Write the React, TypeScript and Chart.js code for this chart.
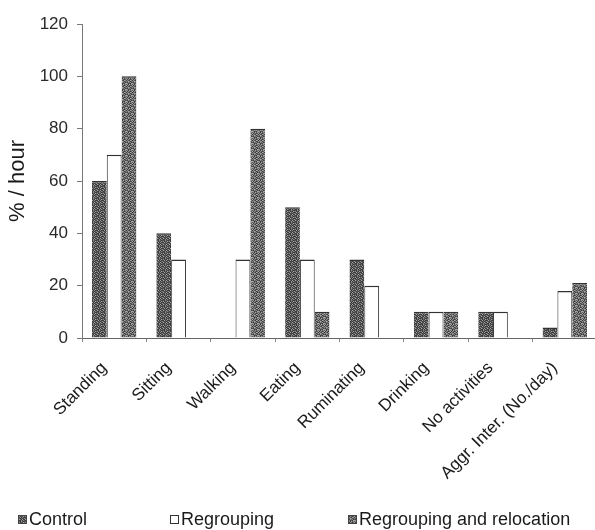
import React, { useEffect, useRef } from "react";
import { Chart, registerables } from "chart.js";

Chart.register(...registerables);

const categories = [
  "Standing",
  "Sitting",
  "Walking",
  "Eating",
  "Ruminating",
  "Drinking",
  "No activities",
  "Aggr. Inter. (No./day)",
];
const controlValues = [60, 40, 0, 50, 30, 10, 10, 4];
const regroupingValues = [70, 30, 30, 30, 20, 10, 10, 18];
const relocationValues = [100, 0, 80, 10, 0, 10, 0, 21];
const yTicks = [0, 20, 40, 60, 80, 100, 120];
const seriesNames = ["Control", "Regrouping", "Regrouping and relocation"];

const FONT = "'Liberation Sans', Arial, sans-serif";

function makePattern(cells: string[][]): CanvasPattern | string {
  const c = document.createElement("canvas");
  const n = cells.length;
  c.width = n;
  c.height = n;
  const ctx = c.getContext("2d");
  if (!ctx) return "#666";
  for (let y = 0; y < n; y++) {
    for (let x = 0; x < n; x++) {
      ctx.fillStyle = cells[y][x];
      ctx.fillRect(x, y, 1, 1);
    }
  }
  const p = ctx.createPattern(c, "repeat");
  return p || "#666";
}

const A = "#3c3c3c";
const B = "#5e5e5e";
const C = "#8a8a8a";
const D = "#a8a8a8";
const controlCells = [
  [A, B, A, C, B, A],
  [B, C, A, B, A, D],
  [A, A, D, A, C, A],
  [C, B, A, B, A, B],
  [A, D, B, A, D, A],
  [B, A, A, C, A, C],
];
const relocCells = [
  [B, C, A, D, B, C],
  [D, A, C, B, A, B],
  [A, C, B, A, D, C],
  [C, B, D, C, A, B],
  [B, A, C, B, C, A],
  [D, C, A, B, A, D],
];

function LegendBox({ kind }: { kind: number }) {
  const ref = useRef<HTMLCanvasElement | null>(null);
  useEffect(() => {
    const c = ref.current;
    if (!c) return;
    const ctx = c.getContext("2d");
    if (!ctx) return;
    ctx.clearRect(0, 0, 10, 10);
    if (kind === 1) {
      ctx.fillStyle = "#fff";
      ctx.fillRect(0, 0, 9, 9);
      ctx.strokeStyle = "#333";
      ctx.lineWidth = 1;
      ctx.strokeRect(0.5, 0.5, 8, 8);
    } else {
      ctx.fillStyle = makePattern(kind === 0 ? controlCells : relocCells) as any;
      ctx.fillRect(0, 0, 9, 9);
      ctx.strokeStyle = "#444";
      ctx.strokeRect(0.5, 0.5, 8, 8);
    }
  }, [kind]);
  return <canvas ref={ref} width={9} height={9} style={{ display: "inline-block", marginRight: 2 }} />;
}

export default function App() {
  const canvasRef = useRef<HTMLCanvasElement | null>(null);

  useEffect(() => {
    const canvas = canvasRef.current;
    if (!canvas) return;
    const controlPattern = makePattern(controlCells);
    const relocPattern = makePattern(relocCells);
    const chart = new Chart(canvas, {
      type: "bar",
      data: {
        labels: categories,
        datasets: [
          {
            label: seriesNames[0],
            data: controlValues,
            backgroundColor: controlPattern as any,
            borderColor: "#333",
            borderWidth: { top: 1.5, left: 0, right: 0, bottom: 0 } as any,
          },
          {
            label: seriesNames[1],
            data: regroupingValues,
            backgroundColor: "#ffffff",
            borderColor: "#333",
            borderWidth: { top: 1.5, left: 1, right: 1, bottom: 0 } as any,
          },
          {
            label: seriesNames[2],
            data: relocationValues,
            backgroundColor: relocPattern as any,
            borderColor: "#333",
            borderWidth: { top: 1.5, left: 0, right: 0, bottom: 0 } as any,
          },
        ],
      },
      options: {
        animation: false,
        responsive: false,
        maintainAspectRatio: false,
        layout: { padding: { top: 24, right: 3, bottom: 0, left: 0 } },
        datasets: {
          bar: { categoryPercentage: 0.69, barPercentage: 1.0 },
        },
        plugins: {
          legend: { display: false },
          tooltip: { enabled: false },
        },
        scales: {
          x: {
            grid: {
              display: true,
              drawOnChartArea: false,
              drawTicks: true,
              tickLength: 4,
              color: "#888",
              offset: true,
            },
            border: { display: true, color: "#666", width: 1 },
            ticks: {
              autoSkip: false,
              minRotation: 45,
              maxRotation: 45,
              color: "#1a1a1a",
              padding: 16,
              labelOffset: -10,
              font: { family: FONT, size: 17 },
            },
            afterFit: (scale: any) => {
              scale.height = 192;
            },
          },
          y: {
            min: 0,
            max: 120,
            afterBuildTicks: (scale: any) => {
              scale.ticks = yTicks.map((v) => ({ value: v }));
            },
            grid: {
              display: true,
              drawOnChartArea: false,
              drawTicks: true,
              tickLength: 5,
              color: "#777",
            },
            border: { display: true, color: "#777", width: 1 },
            ticks: {
              color: "#2a2a2a",
              padding: 9,
              font: { family: FONT, size: 17 },
            },
            title: {
              display: true,
              text: "% / hour",
              color: "#1a1a1a",
              padding: { top: 5, bottom: 0 },
              font: { family: FONT, size: 22 },
            },
            afterFit: (scale: any) => {
              scale.width = 82;
            },
          },
        },
      },
    });
    return () => {
      chart.destroy();
    };
  }, []);

  const legendItem = (left: number, kind: number) => (
    <div
      style={{
        position: "absolute",
        left,
        top: 509,
        display: "flex",
        alignItems: "center",
        fontFamily: FONT,
        fontSize: 18,
        color: "#1a1a1a",
        whiteSpace: "nowrap",
      }}
    >
      <LegendBox kind={kind} />
      <span>{seriesNames[kind]}</span>
    </div>
  );

  return (
    <div
      style={{
        position: "absolute",
        left: 0,
        top: 0,
        width: 595,
        height: 530,
        overflow: "hidden",
        background: "#fff",
      }}
    >
      <canvas ref={canvasRef} width={600} height={530} style={{ position: "absolute", left: 0, top: 0 }} />
      {legendItem(18, 0)}
      {legendItem(170, 1)}
      {legendItem(348, 2)}
    </div>
  );
}
